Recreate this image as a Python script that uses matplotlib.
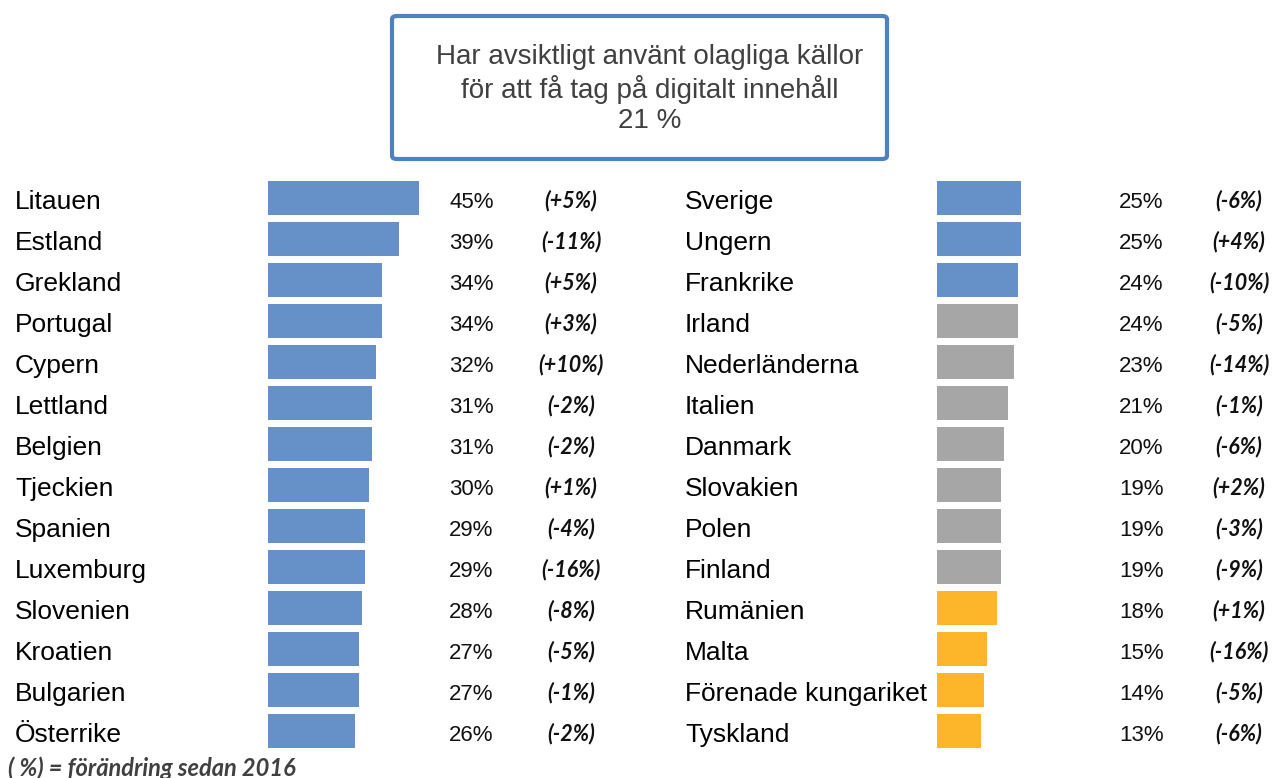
import matplotlib
matplotlib.use("Agg")
import matplotlib.pyplot as plt
from matplotlib.patches import FancyBboxPatch
from matplotlib.transforms import blended_transform_factory

# data
left_countries = ["Litauen", "Estland", "Grekland", "Portugal", "Cypern", "Lettland",
                  "Belgien", "Tjeckien", "Spanien", "Luxemburg", "Slovenien",
                  "Kroatien", "Bulgarien", "Österrike"]
left_values = [45, 39, 34, 34, 32, 31, 31, 30, 29, 29, 28, 27, 27, 26]
left_changes = ["(+5%)", "(-11%)", "(+5%)", "(+3%)", "(+10%)", "(-2%)", "(-2%)",
                "(+1%)", "(-4%)", "(-16%)", "(-8%)", "(-5%)", "(-1%)", "(-2%)"]

right_countries = ["Sverige", "Ungern", "Frankrike", "Irland", "Nederländerna",
                   "Italien", "Danmark", "Slovakien", "Polen", "Finland",
                   "Rumänien", "Malta", "Förenade kungariket", "Tyskland"]
right_values = [25, 25, 24, 24, 23, 21, 20, 19, 19, 19, 18, 15, 14, 13]
right_changes = ["(-6%)", "(+4%)", "(-10%)", "(-5%)", "(-14%)", "(-1%)", "(-6%)",
                 "(+2%)", "(-3%)", "(-9%)", "(+1%)", "(-16%)", "(-5%)", "(-6%)"]
# colour group per bar: above / around / below the EU average
right_groups = ["above"] * 3 + ["avg"] * 7 + ["below"] * 4

title_lines = ["Har avsiktligt använt olagliga källor",
               "för att få tag på digitalt innehåll",
               "21 %"]
footnote = "( %) = förändring sedan 2016"

BLUE = "#6690C8"
GREY = "#A6A6A6"
ORANGE = "#FDB52A"
group_colors = {"above": BLUE, "avg": GREY, "below": ORANGE}

W, H = 1275, 778
fig = plt.figure(figsize=(W / 100, H / 100), dpi=100)

label_font = dict(family=["Liberation Sans", "DejaVu Sans"], fontsize=19, color="black")
value_font = dict(family=["Liberation Sans", "DejaVu Sans"], fontsize=16, color="#111111")
change_font = dict(family=["Lato", "DejaVu Sans"], fontsize=15.5, fontweight="bold",
                   style="italic", color="#111111")

ax_bottom = (H - 751.5) / H
ax_height = 574 / H
px_per_pct = 3.36
xmax = 50


def draw_side(x0, countries, values, changes, colors, label_x, value_x, change_x):
    ax = fig.add_axes([x0 / W, ax_bottom, px_per_pct * xmax / W, ax_height])
    pos = list(range(len(countries)))
    ax.barh(pos, values, height=0.83, color=colors, left=0)
    ax.set_xlim(0, xmax)
    ax.set_ylim(len(countries) - 0.5, -0.5)
    ax.axis("off")
    tr = blended_transform_factory(fig.transFigure, ax.transData)
    for p, c, v, ch in zip(pos, countries, values, changes):
        ax.text(label_x / W, p + 0.26, c, transform=tr, ha="left", va="baseline", **label_font)
        ax.text(value_x / W, p + 0.24, f"{v}%", transform=tr, ha="left", va="baseline", **value_font)
        ax.text(change_x / W, p + 0.22, ch, transform=tr, ha="center", va="baseline", **change_font)
    return ax


draw_side(268, left_countries, left_values, left_changes, [BLUE] * len(left_values),
          15, 449, 571)
draw_side(937, right_countries, right_values, right_changes,
          [group_colors[g] for g in right_groups], 685, 1119, 1239)

# title box
box = FancyBboxPatch((392 / W, (H - 159) / H), 495 / W, 143 / H,
                     boxstyle="round,pad=0,rounding_size=0.004",
                     transform=fig.transFigure, facecolor="white",
                     edgecolor="#4F81BD", linewidth=3.0)
fig.patches.append(box)
for i, line in enumerate(title_lines):
    fig.text(650 / W, (H - 57 - 32 * i) / H, line, ha="center", va="center",
             family=["Liberation Sans", "DejaVu Sans"], fontsize=20, color="#404040")

fig.text(8 / W, (H - 768) / H, footnote, ha="left", va="center",
         family=["Lato", "DejaVu Sans"], fontsize=17, fontweight="bold",
         style="italic", color="#404040")

fig.savefig("out.png", dpi=100)
